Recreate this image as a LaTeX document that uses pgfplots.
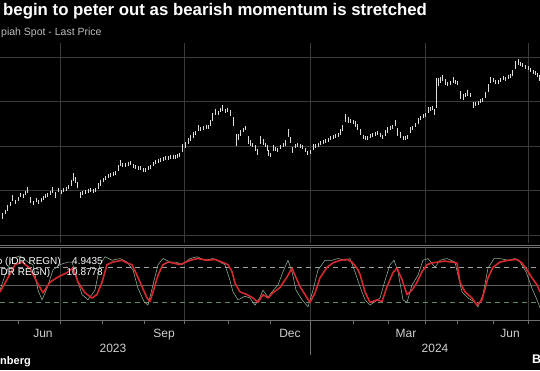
\documentclass[border=0pt]{standalone}
\usepackage{fontspec}
\setmainfont{Liberation Sans}
\usepackage{pgfplots}
\usepackage{pgfplotstable}
\pgfplotsset{compat=1.18}
\definecolor{gridc}{HTML}{3A3A3A}
\definecolor{tickc}{HTML}{707070}
\definecolor{barc}{HTML}{DCDCDC}
\definecolor{redl}{HTML}{D22A2E}
\definecolor{greenl}{HTML}{8FB39A}
\definecolor{labc}{HTML}{CFCFCF}
\definecolor{subc}{HTML}{BDBDBD}
\definecolor{dashup}{HTML}{A0A0A0}
\definecolor{dashlo}{HTML}{5E8C68}

\pgfplotstableread{
x y e
2 14713 30
5 14758 25
7 14803 30
10 14848 25
12 14916 30
15 14871 25
18 14905 25
20 14949 25
23 14938 25
25 14972 25
27 15006 30
30 14893 30
33 14860 25
36 14893 25
38 14871 25
41 14893 25
43 14916 25
45 14938 25
47 14949 25
50 14972 25
52 15006 30
55 14949 30
58 15006 25
61 14983 25
63 15006 25
66 15017 25
68 15039 25
71 15084 30
73 15152 45
75 15118 35
77 15062 35
80 14949 35
82 14972 25
85 14983 25
88 14994 25
90 15006 25
93 14994 25
95 15006 25
98 15051 30
100 15084 30
103 15118 25
105 15140 25
108 15163 25
110 15174 25
113 15185 25
115 15197 25
118 15253 35
120 15309 30
122 15287 25
125 15287 25
128 15298 25
130 15309 25
133 15275 25
135 15264 25
138 15253 25
140 15253 25
143 15230 25
145 15230 25
148 15253 25
150 15264 25
153 15298 25
155 15320 25
158 15332 25
160 15343 25
163 15354 25
165 15365 25
168 15365 25
170 15376 25
173 15376 25
175 15376 25
177 15388 25
179 15399 25
182 15478 45
185 15511 35
188 15556 30
190 15590 30
193 15624 30
195 15646 25
198 15702 30
200 15691 25
203 15702 25
206 15713 25
208 15713 25
210 15758 30
212 15826 40
215 15882 30
218 15871 25
220 15904 25
222 15927 30
225 15893 25
227 15904 25
230 15871 30
233 15770 50
236 15567 70
238 15601 30
240 15646 30
243 15680 25
245 15702 25
248 15567 45
250 15534 30
252 15511 25
255 15478 30
257 15433 30
260 15567 40
263 15545 30
265 15511 25
267 15478 30
268 15421 30
270 15399 25
273 15478 30
275 15466 25
277 15455 25
280 15489 25
283 15511 25
285 15534 30
288 15646 40
290 15567 35
292 15455 35
295 15500 25
297 15511 25
300 15500 25
302 15489 25
305 15455 25
307 15421 25
310 15433 25
313 15489 30
315 15500 25
318 15511 25
320 15534 25
323 15545 25
325 15556 25
328 15567 25
330 15590 25
333 15601 25
335 15612 25
338 15624 25
340 15657 30
342 15702 35
345 15815 40
348 15792 30
350 15781 25
353 15770 25
355 15747 30
357 15713 30
360 15657 30
363 15601 25
365 15590 25
367 15590 25
370 15612 25
372 15624 25
375 15635 25
377 15646 25
380 15624 25
382 15601 25
385 15646 30
387 15680 30
390 15702 25
392 15713 25
395 15758 30
397 15657 40
400 15624 30
403 15590 25
405 15590 25
407 15601 25
410 15680 35
412 15702 25
415 15736 25
418 15781 30
420 15815 25
423 15837 25
425 15848 25
428 15904 30
430 15915 25
432 15927 25
434 15882 35
436 16096 170
438 16219 40
440 16242 30
442 16264 30
445 16219 30
447 16197 25
450 16208 25
453 16242 30
455 16219 25
457 16208 25
460 16073 40
463 16051 30
465 16073 25
467 16096 30
470 16073 25
473 15961 35
475 15972 25
478 15983 25
480 16006 25
482 16017 25
485 16073 35
488 16152 40
490 16242 35
493 16242 25
495 16219 25
498 16219 25
500 16242 25
503 16264 25
505 16253 25
508 16275 25
510 16287 25
512 16320 30
515 16410 40
518 16444 30
520 16422 25
522 16410 25
525 16388 25
528 16376 25
530 16354 25
533 16331 25
535 16320 25
537 16298 25
539 16264 30
}\pricetab

\pgfplotstableread{
x v
0 42
7 56
15 73
22 76
30 69
37 53
43 41
50 53
58 59
67 64
73 69
78 53
85 41
92 35
97 39
102 53
107 73
113 76
122 78
127 75
132 73
137 61
142 48
147 35
150 31
153 42
158 61
163 73
168 76
173 75
180 73
190 78
198 80
207 78
215 79
222 76
228 73
232 65
235 52
240 42
247 39
253 35
258 30
263 39
268 35
273 41
280 47
287 59
292 69
295 61
300 48
305 39
310 30
315 41
320 58
327 70
333 75
340 78
347 79
352 76
357 69
360 62
365 42
370 30
377 33
382 31
387 48
393 64
397 69
402 56
407 39
412 44
417 53
422 65
427 73
432 75
438 76
445 77
452 76
457 75
460 53
465 42
472 35
477 27
482 33
488 58
493 70
500 76
508 78
517 79
522 75
527 67
532 58
537 50
540 42
}\redtab

\pgfplotstableread{
x v
0 44
5 61
12 80
20 83
28 76
33 73
38 44
42 33
47 46
53 67
60 73
68 76
72 76
76 61
82 39
88 33
95 44
100 73
105 82
112 78
120 80
127 76
133 67
138 46
144 31
148 27
153 50
158 73
163 80
170 76
176 76
182 73
190 80
197 82
205 78
213 80
220 76
225 73
230 55
233 42
238 33
245 37
250 35
255 27
260 36
263 44
268 36
272 42
278 50
283 65
288 78
292 65
296 44
302 33
308 25
313 44
318 67
325 78
332 78
338 80
345 78
350 80
355 65
360 48
365 33
370 27
375 31
380 35
385 55
390 73
394 78
398 65
403 33
407 30
412 50
418 61
423 78
428 80
435 70
440 78
447 80
455 76
458 61
462 42
468 35
474 31
478 25
483 39
488 69
494 80
500 80
508 78
515 80
520 76
526 65
532 46
537 33
540 24
}\greentab

\begin{document}
\begin{tikzpicture}[x=1pt,y=1pt]
\fill[black] (0,0) rectangle (540,370);

% titles
\node[anchor=base west, inner sep=0, text=white, font=\bfseries\fontsize{16.8}{18}\selectfont] at (3,354) {begin to peter out as bearish momentum is stretched};
\node[anchor=base west, inner sep=0, text=subc, font=\fontsize{10.5}{12}\selectfont] at (1,334) {piah Spot - Last Price};

% upper panel
\begin{axis}[at={(0pt,127pt)}, anchor=south west, scale only axis,
  width=540pt, height=200pt,
  xmin=0, xmax=540, ymin=14410, ymax=16657,
  axis line style={draw=none},
  xtick={60,184,310,425,528}, ytick={14500,15000,15500,16000,16500},
  xticklabels={}, yticklabels={}, scaled y ticks=false,
  major tick length=0pt,
  xmajorgrids, ymajorgrids,
  major grid style={gridc, line width=0.6pt},
  clip=true]
\addplot[draw=none, mark=none,
  error bars/.cd, y dir=both, y explicit, error mark=none,
  error bar style={draw=barc, line width=1.0pt}]
  table[x=x, y=y, y error=e] {\pricetab};
\end{axis}

% lower panel
\begin{axis}[at={(0pt,50pt)}, anchor=south west, scale only axis,
  width=540pt, height=72pt,
  xmin=0, xmax=540, ymin=10, ymax=92,
  axis line style={draw=none},
  xtick={60,184,310,425,528},
  minor xtick={18,102,144,228,270,353,388,457,493},
  xticklabels={}, ytick=\empty,
  xtick pos=bottom, tick align=outside,
  major tick length=4pt, minor tick length=4pt,
  tick style={tickc, line width=0.6pt},
  minor tick style={tickc, line width=0.6pt},
  xmajorgrids,
  major grid style={gridc, line width=0.6pt},
  clip=true]
\draw[gridc!80!white, line width=0.7pt] (axis cs:0,50) -- (axis cs:540,50);
\draw[dashup, line width=0.6pt, dash pattern=on 5pt off 4pt] (axis cs:0,70) -- (axis cs:540,70);
\draw[dashlo, line width=0.6pt, dash pattern=on 5pt off 4pt] (axis cs:0,30) -- (axis cs:540,30);
\addplot[greenl, line width=0.55pt, mark=none] table[x=x, y=v] {\greentab};
\addplot[redl, line width=1.6pt, mark=none, line join=round] table[x=x, y=v] {\redtab};
\end{axis}

% panel separators
\draw[tickc, line width=0.8pt] (0,125) -- (540,125);
\draw[tickc, line width=0.8pt] (0,122.3) -- (540,122.3);
\draw[tickc, line width=0.7pt] (0,50) -- (540,50);
\draw[tickc, line width=0.6pt] (310,50) -- (310,15);

% legend text
\node[anchor=base east, inner sep=0, text=white, font=\fontsize{10}{12}\selectfont] at (61,106) {o (IDR REGN)};
\node[anchor=base east, inner sep=0, text=white, font=\fontsize{10}{12}\selectfont] at (103,106) {4.9435};
\node[anchor=base west, inner sep=0, text=white, font=\fontsize{10}{12}\selectfont] at (0.5,95) {DR REGN)};
\node[anchor=base east, inner sep=0, text=white, font=\fontsize{10}{12}\selectfont] at (103,95) {10.8778};

% x labels
\foreach \xx/\lab in {43/Jun,164/Sep,290/Dec,406/Mar,510/Jun}
  \node[anchor=base, inner sep=0, text=labc, font=\fontsize{12}{14}\selectfont] at (\xx,33) {\lab};
\node[anchor=base, inner sep=0, text=labc, font=\fontsize{12}{14}\selectfont] at (113,18) {2023};
\node[anchor=base, inner sep=0, text=labc, font=\fontsize{12}{14}\selectfont] at (435,18) {2024};

% source
\node[anchor=base west, inner sep=0, text=white, font=\bfseries\fontsize{11}{13}\selectfont] at (0,6) {nberg};
\node[anchor=base west, inner sep=0, text=white, font=\bfseries\fontsize{12.5}{14}\selectfont] at (532,7) {B};

\pgfresetboundingbox
\useasboundingbox (0,0) rectangle (540,370);
\end{tikzpicture}
\end{document}
